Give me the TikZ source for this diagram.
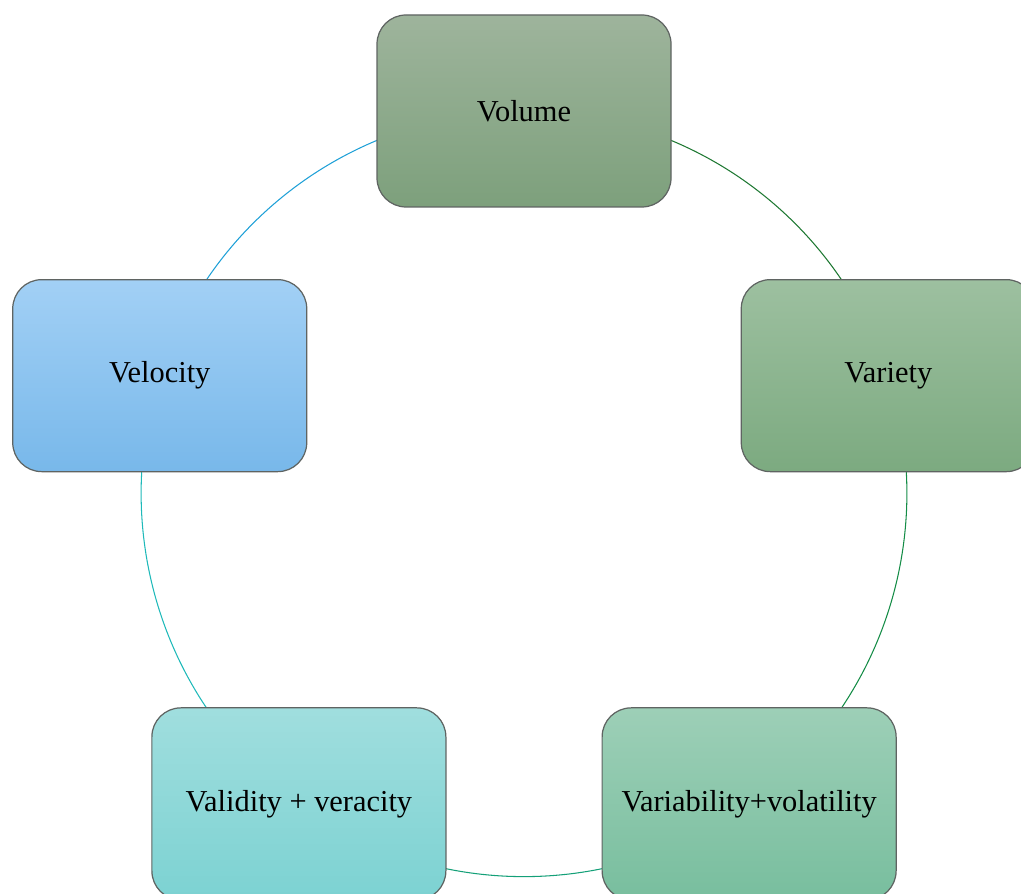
\documentclass[tikz,border=0pt]{standalone}
\usepackage{fontspec}
\setmainfont{Liberation Serif}
\usepackage{tikz}
\usetikzlibrary{calc, positioning, backgrounds}

\definecolor{boxEdge}{RGB}{95,100,98}
\definecolor{volTop}{RGB}{158,180,156}
\definecolor{volBot}{RGB}{125,160,124}
\definecolor{varTop}{RGB}{157,192,160}
\definecolor{varBot}{RGB}{124,170,128}
\definecolor{vblTop}{RGB}{157,207,183}
\definecolor{vblBot}{RGB}{120,190,158}
\definecolor{vldTop}{RGB}{160,222,222}
\definecolor{vldBot}{RGB}{124,210,210}
\definecolor{velTop}{RGB}{162,208,245}
\definecolor{velBot}{RGB}{120,184,234}
\definecolor{arcA}{RGB}{30,120,50}
\definecolor{arcB}{RGB}{20,140,70}
\definecolor{arcC}{RGB}{20,160,120}
\definecolor{arcD}{RGB}{30,185,185}
\definecolor{arcE}{RGB}{30,160,215}

\begin{document}
\begin{tikzpicture}[
  box/.style={draw=boxEdge, line width=0.7pt, rounded corners=0.58cm,
    minimum width=5.88cm, minimum height=3.84cm, inner sep=0pt,
    font=\fontsize{17.3}{20}\selectfont},
  link/.style={line width=0.6pt, bend left=36, looseness=0.94}
]
  \useasboundingbox (0,0) rectangle (20.42,-17.88);
  \clip (0,0) rectangle (20.42,-17.88);
  \coordinate (c) at (10.48,-9.88);

  % the five boxes round the circle
  \node (Vol) [box, top color=volTop, bottom color=volBot] at ($(c)+(90:7.66)$) {Volume};
  \node (Var) [box, top color=varTop, bottom color=varBot] at ($(c)+(18:7.66)$) {Variety};
  \node (Vbl) [box, top color=vblTop, bottom color=vblBot] at ($(c)+(-54:7.66)$) {Variability+volatility};
  \node (Vld) [box, top color=vldTop, bottom color=vldBot] at ($(c)+(234:7.66)$) {Validity + veracity};
  \node (Vel) [box, top color=velTop, bottom color=velBot] at ($(c)+(162:7.66)$) {Velocity};

  % arcs behind the boxes
  \begin{scope}[on background layer]
    \draw[link, draw=arcA] (Vol.center) to (Var.center);
    \draw[link, draw=arcB] (Var.center) to (Vbl.center);
    \draw[link, draw=arcC] (Vbl.center) to (Vld.center);
    \draw[link, draw=arcD] (Vld.center) to (Vel.center);
    \draw[link, draw=arcE] (Vel.center) to (Vol.center);
  \end{scope}
\end{tikzpicture}
\end{document}
